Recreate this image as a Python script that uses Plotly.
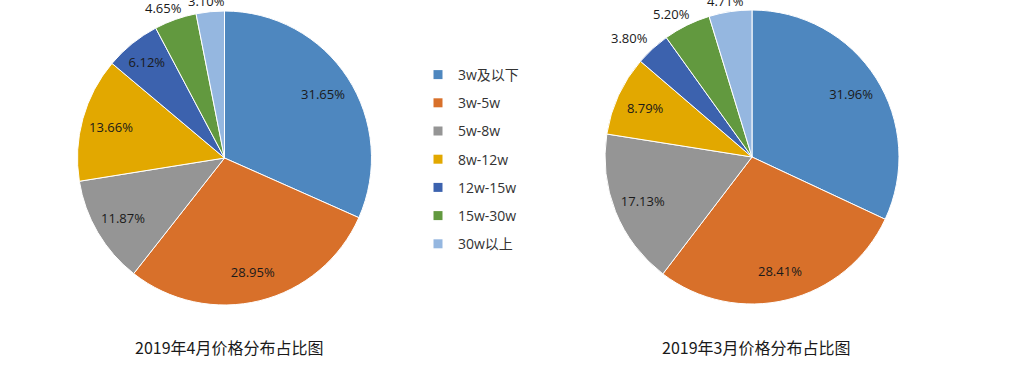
import math
import plotly.graph_objects as go

categories = ["3w及以下", "3w-5w", "5w-8w", "8w-12w", "12w-15w", "15w-30w", "30w以上"]
april_values = [31.65, 28.95, 11.87, 13.66, 6.12, 4.65, 3.10]
march_values = [31.96, 28.41, 17.13, 8.79, 3.80, 5.20, 4.71]
april_title = "2019年4月价格分布占比图"
march_title = "2019年3月价格分布占比图"

colors = ["#4E87BF", "#D8702A", "#959595", "#E2A800", "#3C62AE", "#62993F", "#95B7E0"]
april_outside = [False] * 5 + [True] * 2
march_outside = [False] * 4 + [True] * 3

W, H = 1011, 366
label_font = dict(family="Open Sans", size=13, color="#1a1a1a")

fig = go.Figure()
annotations = []


def add_pie(values, outside, title, cx, cy, r):
    dom = dict(x=[(cx - r) / W, (cx + r) / W], y=[(H - cy - r) / H, (H - cy + r) / H])
    # coloured slices
    fig.add_trace(go.Pie(
        labels=categories, values=values, sort=False, direction="clockwise", rotation=0,
        marker=dict(colors=colors, line=dict(color="white", width=1)),
        textinfo="none", showlegend=False, hoverinfo="label+value", domain=dom,
    ))
    # transparent ring that carries the inside data labels (places them near the rim)
    fig.add_trace(go.Pie(
        labels=categories, values=values, sort=False, direction="clockwise", rotation=0,
        hole=0.6,
        marker=dict(colors=["rgba(0,0,0,0)"] * len(values), line=dict(width=0)),
        texttemplate="%{value:.2f}%",
        textposition=["none" if o else "inside" for o in outside],
        insidetextorientation="horizontal",
        textfont=label_font, insidetextfont=label_font,
        showlegend=False, hoverinfo="skip", domain=dom,
    ))
    # outside-end labels for the thin slices (placed just beyond the rim, Excel style)
    total = sum(values)
    cum = 0.0
    for v, o in zip(values, outside):
        mid = (cum + v / 2) / total
        cum += v
        if not o:
            continue
        th = 2 * math.pi * mid
        lx = cx + r * math.sin(th) + 34 * math.sin(th)
        ly = cy - r * math.cos(th) - 11
        annotations.append(dict(
            text=f"{v:.2f}%", x=lx / W, y=1 - ly / H, xref="paper", yref="paper",
            xanchor="center", yanchor="middle", showarrow=False, font=label_font,
        ))
    annotations.append(dict(
        text=title, x=cx / W + 4 / W, y=(H - 347) / H, xref="paper", yref="paper",
        xanchor="center", yanchor="middle", showarrow=False,
        font=dict(family="Noto Sans CJK SC", size=16, color="#1a1a1a"),
    ))


add_pie(april_values, april_outside, april_title, 224.5, 158, 147)
add_pie(march_values, march_outside, march_title, 752, 157, 147)

# legend entries
for name, c in zip(categories, colors):
    fig.add_trace(go.Scatter(
        x=[None], y=[None], mode="markers", name=name,
        marker=dict(symbol="square", size=9, color=c),
        legendgroup=name, showlegend=True,
    ))

fig.update_layout(
    width=W, height=H,
    margin=dict(l=0, r=0, t=0, b=0, autoexpand=False),
    paper_bgcolor="white", plot_bgcolor="white",
    xaxis=dict(visible=False), yaxis=dict(visible=False),
    legend=dict(
        x=418 / W, y=(H - 59) / H, xanchor="left", yanchor="top",
        font=dict(family="Open Sans, Noto Sans CJK SC", size=14, color="#333333"),
        tracegroupgap=7, itemwidth=30, bgcolor="rgba(0,0,0,0)",
    ),
    annotations=annotations,
)

fig.write_html("out.html", config={"displayModeBar": False},
               post_script="document.body.style.margin='0';")
